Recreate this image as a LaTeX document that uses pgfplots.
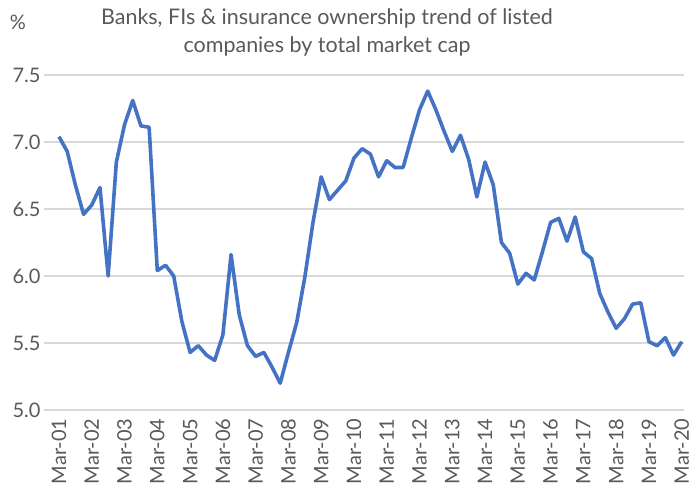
\documentclass[border=0pt]{standalone}
\usepackage{pgfplots}
\pgfplotsset{compat=1.18}
\usepackage{pgfplotstable}
\usepackage{fontspec}
\setmainfont{Lato}
\definecolor{linecol}{HTML}{4472C4}
\definecolor{gridcol}{HTML}{D9D9D9}
\definecolor{txtcol}{HTML}{595959}
\pgfplotstableread{
i v
0 7.04
1 6.93
2 6.68
3 6.46
4 6.53
5 6.66
6 6.00
7 6.85
8 7.13
9 7.31
10 7.12
11 7.11
12 6.04
13 6.08
14 6.00
15 5.66
16 5.43
17 5.48
18 5.41
19 5.37
20 5.56
21 6.16
22 5.71
23 5.48
24 5.40
25 5.43
26 5.32
27 5.20
28 5.43
29 5.65
30 5.99
31 6.40
32 6.74
33 6.57
34 6.64
35 6.71
36 6.88
37 6.95
38 6.91
39 6.74
40 6.86
41 6.81
42 6.81
43 7.03
44 7.24
45 7.38
46 7.24
47 7.08
48 6.93
49 7.05
50 6.87
51 6.59
52 6.85
53 6.68
54 6.25
55 6.17
56 5.94
57 6.02
58 5.97
59 6.18
60 6.40
61 6.43
62 6.26
63 6.44
64 6.18
65 6.13
66 5.87
67 5.73
68 5.61
69 5.68
70 5.79
71 5.80
72 5.51
73 5.48
74 5.54
75 5.41
76 5.51
}\datatable
\begin{document}
\begin{tikzpicture}
\path[use as bounding box] (-44bp,-85bp) rectangle (650bp,410bp);
\begin{axis}[
  at={(0,0)}, anchor=south west,
  scale only axis,
  width=640bp, height=335bp,
  xmin=-1.83, xmax=76.28,
  ymin=5, ymax=7.5,
  axis line style={draw=none},
  ytick={5,5.5,6,6.5,7,7.5},
  yticklabel style={/pgf/number format/fixed,/pgf/number format/fixed zerofill,/pgf/number format/precision=1,font=\fontsize{20bp}{22bp}\selectfont,text=txtcol},
  /pgf/number format/assume math mode=true,
  xtick={0,4,...,76},
  xticklabels={Mar-01,Mar-02,Mar-03,Mar-04,Mar-05,Mar-06,Mar-07,Mar-08,Mar-09,Mar-10,Mar-11,Mar-12,Mar-13,Mar-14,Mar-15,Mar-16,Mar-17,Mar-18,Mar-19,Mar-20},
  xticklabel style={rotate=90,anchor=east,font=\fontsize{20bp}{22bp}\selectfont,text=txtcol},
  xticklabel shift=5bp,
  major tick length=0pt,
  xmajorgrids=false,
  ymajorgrids=true,
  grid style={gridcol,line width=1.5bp},
  clip=false,
]
\addplot[linecol,line width=3.6bp,line join=round] table[x=i,y=v]{\datatable};
\end{axis}
\node[text=txtcol,font=\fontsize{21.5bp}{28bp}\selectfont,align=center] at (283bp,378bp) {Banks, FIs \& insurance ownership trend of listed\\companies by total market cap};
\node[text=txtcol,font=\fontsize{20bp}{22bp}\selectfont] at (-26bp,388bp) {\%};
\end{tikzpicture}
\end{document}
